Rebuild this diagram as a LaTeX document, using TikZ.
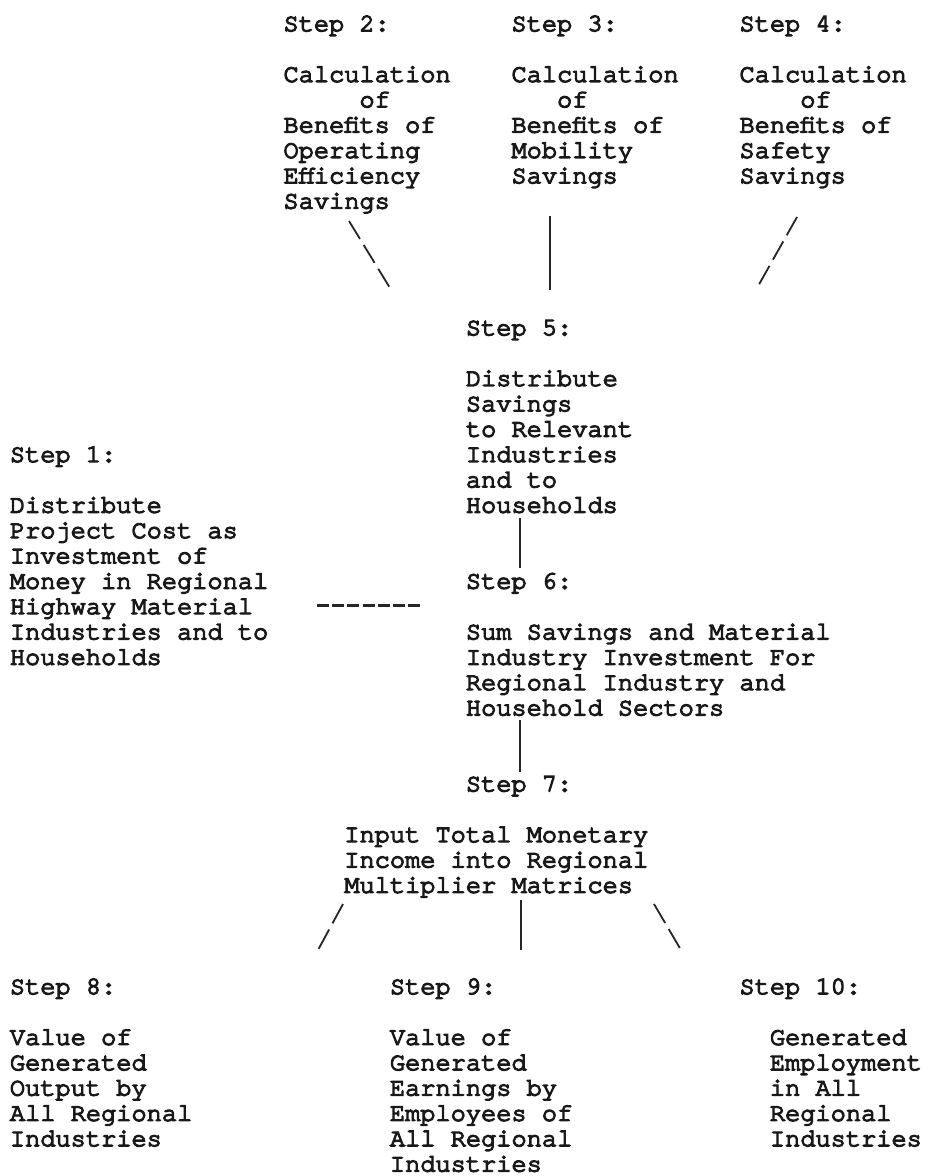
\documentclass[tikz,border=0pt]{standalone}
\usepackage{fontspec}
\setmainfont{texgyrecursor-regular.otf}[FakeBold=5]
\begin{document}
\begin{tikzpicture}[x=1pt,y=-1pt,
  txt/.style={anchor=north west,inner sep=0pt,align=left,text=black!90,
    font=\fontsize{25.33}{25.34}\selectfont},
  conn/.style={line width=1.8pt,black!85},
  typed/.style={conn,dash pattern=on 21pt off 7pt},
  typedshort/.style={conn,dash pattern=on 22pt off 7pt},
  hyph/.style={line width=3pt,black!85,dash pattern=on 12pt off 3.2pt}]
\useasboundingbox[fill=white] (0,0) rectangle (927,1176);
\def\cw{15.2}\def\lh{25.34}\def\xo{9.7}\def\yo{13.26}
% top row
\node[txt] (s2) at ({\xo+18*\cw},{\yo+0*\lh}) {\strut Step 2:\\ \\Calculation\\\hphantom{00000}of\\Benefits of\\Operating\\Efficiency\\Savings};
\node[txt] (s3) at ({\xo+33*\cw},{\yo+0*\lh}) {\strut Step 3:\\ \\Calculation\\\hphantom{000}of\\Benefits of\\Mobility\\Savings};
\node[txt] (s4) at ({\xo+48*\cw},{\yo+0*\lh}) {\strut Step 4:\\ \\Calculation\\\hphantom{0000}of\\Benefits of\\Safety\\Savings};
% middle
\node[txt] (s5) at ({\xo+30*\cw},{\yo+12*\lh}) {\strut Step 5:\\ \\Distribute\\Savings\\to Relevant\\Industries\\and to\\Households};
\node[txt] (s1) at ({\xo+0*\cw},{\yo+17*\lh}) {\strut Step 1:\\ \\Distribute\\Project Cost as\\Investment of\\Money in Regional\\Highway Material\\Industries and to\\Households};
\node[txt] (s6) at ({\xo+30*\cw},{\yo+22*\lh}) {\strut Step 6:\\ \\Sum Savings and Material\\Industry Investment For\\Regional Industry and\\Household Sectors};
\node[txt] (s7) at ({\xo+30*\cw},{\yo+30*\lh}) {\strut Step 7:};
\node[txt] (s7t) at ({\xo+22*\cw},{\yo+32*\lh}) {\strut Input Total Monetary\\Income into Regional\\Multiplier Matrices};
% bottom row
\node[txt] (s8) at ({\xo+0*\cw},{\yo+38*\lh}) {\strut Step 8:\\ \\Value of\\Generated\\Output by\\All Regional\\Industries};
\node[txt] (s9) at ({\xo+25*\cw},{\yo+38*\lh}) {\strut Step 9:\\ \\Value of\\Generated\\Earnings by\\Employees of\\All Regional\\Industries};
\node[txt] (s10) at ({\xo+48*\cw},{\yo+38*\lh}) {\strut Step 10:\\ \\\hphantom{00}Generated\\\hphantom{00}Employment\\\hphantom{00}in All\\\hphantom{00}Regional\\\hphantom{00}Industries};
% connector end points
\coordinate (a2t) at (349,221); \coordinate (a2b) at (390,288);
\coordinate (a3t) at (550,216); \coordinate (a3b) at (550,290);
\coordinate (a4t) at (797,217); \coordinate (a4b) at (757,288);
\coordinate (a56t) at (520,518); \coordinate (a56b) at (520,568);
\coordinate (a67t) at (520,720); \coordinate (a67b) at (520,772);
\coordinate (a16l) at (317,605); \coordinate (a16r) at (422,605);
\coordinate (a8t) at (343,904); \coordinate (a8b) at (318,950);
\coordinate (a9t) at (521,900); \coordinate (a9b) at (521,950);
\coordinate (a10t) at (654,904); \coordinate (a10b) at (681,950);
% connectors
\draw[typed] (a2t) -- (a2b);
\draw[conn] (a3t) -- (a3b);
\draw[typed] (a4t) -- (a4b);
\draw[conn] (a56t) -- (a56b);
\draw[conn] (a67t) -- (a67b);
\draw[hyph] (a16l) -- (a16r);
\draw[typedshort] (a8t) -- (a8b);
\draw[conn] (a9t) -- (a9b);
\draw[typedshort] (a10t) -- (a10b);
\end{tikzpicture}
\end{document}
